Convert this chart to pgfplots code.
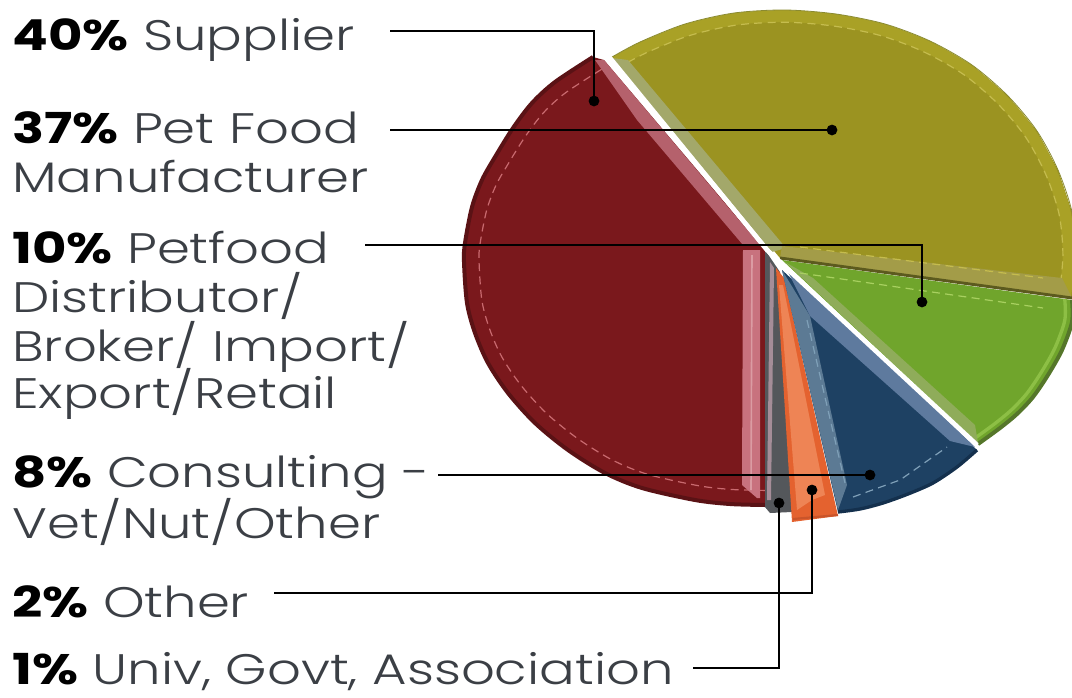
\documentclass[border=0pt]{standalone}
\usepackage{fontspec}
\usepackage{pgfplots}
\usepackage{pgfplotstable}
\pgfplotsset{compat=1.18}
\setmainfont{Poppins Light}[BoldFont={Poppins Bold},FakeStretch=1.24]

% wedge outlines: first row is the apex, the remaining rows run along the rim
\pgfplotstableread{
x y
765 250
604 60
593 57
555 82
532 103
513 128
495 157
482 180
472 207
465 243
464 262
467 303
475 333
488 363
508 393
535 423
568 450
605 473
642 488
695 500
730 504
765 505
}\redtbl
\pgfplotstableread{
x y
780 258
1072 298
1076 255
1072 212
1058 170
1037 131
1008 96
972 65
930 41
885 24
836 14
785 10
734 13
685 24
640 42
612 57
}\olivetbl
\pgfplotstableread{
x y
782 260
1072 300
1072 322
1062 350
1048 375
1033 397
1017 414
1000 428
978 444
}\greentbl
\pgfplotstableread{
x y
782 270
838 512
860 509
883 503
908 494
933 483
957 467
977 450
}\bluetbl

\definecolor{ink}{HTML}{3B3F45}
\definecolor{redmain}{HTML}{7A181C}
\definecolor{redrim}{HTML}{5A1215}
\definecolor{redseam}{HTML}{C96A6F}
\definecolor{redband}{HTML}{B5616C}
\definecolor{redside}{HTML}{C8727E}
\definecolor{redglow}{HTML}{DB9CA3}
\definecolor{olivemain}{HTML}{9B9321}
\definecolor{oliverim}{HTML}{A9A126}
\definecolor{oliveseam}{HTML}{C5BC4E}
\definecolor{oliveband}{HTML}{A3A86A}
\definecolor{olivelow}{HTML}{A39C48}
\definecolor{olivedark}{HTML}{8A8A30}
\definecolor{olivejoin}{HTML}{5C5A1E}
\definecolor{greenmain}{HTML}{70A52C}
\definecolor{greenrim}{HTML}{55762A}
\definecolor{greenlite}{HTML}{8DBF45}
\definecolor{greenband}{HTML}{8FAC5A}
\definecolor{greenseam}{HTML}{A8D060}
\definecolor{bluemain}{HTML}{1E4163}
\definecolor{bluerim}{HTML}{14304D}
\definecolor{blueside}{HTML}{5C7A94}
\definecolor{blueband}{HTML}{5E7A9E}
\definecolor{blueseam}{HTML}{7FA0B8}
\definecolor{orangemain}{HTML}{E4622F}
\definecolor{orangelite}{HTML}{EE8455}
\definecolor{orangerim}{HTML}{C9542A}
\definecolor{greymain}{HTML}{54575B}
\definecolor{greylite}{HTML}{A58D98}

\pgfplotsset{
  rimonly/.style={skip coords between index={0}{1}},
  redrimonly/.style={skip coords between index={0}{2}},
  seam/.style={dash pattern=on 6pt off 4pt, line width=0.9pt},
}

\newcommand{\lab}[3]{\node[anchor=base west, inner sep=0pt, text=ink] at (axis cs:#1,#2) {#3};}
\newcommand{\pct}[1]{\textbf{\textcolor{black}{#1\%}}}

\begin{document}
\begin{tikzpicture}
\begin{axis}[
  hide axis, scale only axis,
  width=804pt, height=522.75pt,
  xmin=0, xmax=1072, ymin=0, ymax=697, y dir=reverse,
  clip=true,
  every axis plot/.append style={no markers},
]
% supplier wedge
\addplot[fill=olivemain, draw=none] table {\olivetbl};
\addplot[draw=oliverim, line width=9pt, smooth, tension=0.5] table[x expr={785+(\thisrow{x}-785)*0.975}, y expr={255+(\thisrow{y}-255)*0.975}, rimonly] {\olivetbl};
\addplot[draw=oliveseam, seam, smooth, tension=0.5] table[x expr={785+(\thisrow{x}-785)*0.955}, y expr={255+(\thisrow{y}-255)*0.95}, rimonly] {\olivetbl};
\addplot[fill=oliveband, draw=none] coordinates {(612,58)(628,60)(786,248)(772,252)};
\addplot[fill=olivelow, draw=none] coordinates {(782,246)(1062,278)(1072,298)(780,258)};
\addplot[draw=oliveseam, seam] coordinates {(800,247)(1043,278)};
\addplot[draw=olivedark, line width=0.6pt, smooth, tension=0.5] table[rimonly] {\olivetbl};

% distributor wedge
\addplot[fill=greenmain, draw=none] table {\greentbl};
\addplot[draw=greenrim, line width=3pt, smooth, tension=0.5] table[rimonly] {\greentbl};
\addplot[draw=greenlite, line width=2.5pt, smooth, tension=0.5] table[x expr={782+(\thisrow{x}-782)*0.975}, y expr={262+(\thisrow{y}-262)*0.975}, rimonly] {\greentbl};
\addplot[fill=greenband, draw=none] coordinates {(785,262)(813,278)(975,425)(978,443)};
\addplot[draw=greenseam, seam] coordinates {(800,273)(1043,308)};
\addplot[draw=olivejoin, line width=2.2pt] coordinates {(780,258)(1072,298)};

% manufacturer wedge
\addplot[fill=redmain, draw=none] table {\redtbl};
\addplot[draw=redrim, line width=3pt, smooth, tension=0.5] table[redrimonly] {\redtbl};
\addplot[draw=redseam, seam, smooth, tension=0.5] table[x expr={765+(\thisrow{x}-765)*0.95}, y expr={262+(\thisrow{y}-262)*0.94}, redrimonly] {\redtbl};
\addplot[fill=redband, draw=none] coordinates {(595,60)(604,60)(760,245)(743,245)(637,120)};
\addplot[fill=redside, draw=none] coordinates {(743,250)(760,250)(760,498)(757,498)(742,485)};
\addplot[draw=redglow, line width=1.2pt] coordinates {(752,255)(751,490)};

% small wedges along the bottom
\addplot[fill=greymain, draw=none] coordinates {(765,250)(780,272)(792,512)(770,513)(765,507)};
\addplot[fill=greylite, draw=none] coordinates {(770,262)(774,268)(771,500)(767,500)};
\addplot[fill=orangemain, draw=none] coordinates {(776,268)(784,278)(838,516)(792,522)};
\addplot[fill=orangelite, draw=none] coordinates {(779,285)(783,285)(825,495)(812,500)(797,510)};
\addplot[draw=orangerim, line width=1.6pt] coordinates {(793,519)(838,515)};

% consulting wedge
\addplot[fill=bluemain, draw=none] table {\bluetbl};
\addplot[draw=bluerim, line width=2.5pt, smooth, tension=0.5] table[rimonly] {\bluetbl};
\addplot[fill=blueside, draw=none] coordinates {(782,270)(810,316)(847,485)(838,510)};
\addplot[fill=blueband, draw=none] coordinates {(784,264)(975,447)(950,441)(810,316)};
\addplot[draw=blueseam, seam] coordinates {(807,320)(845,483)};
\addplot[draw=blueseam, seam] coordinates {(853,497)(900,480)(947,447)};

% white gap between the exploded halves
\addplot[draw=white, line width=3.5pt] coordinates {(610,58)(767,250)(977,445)};

% leader lines, each ending in a dot
\addplot[black, line width=1.8pt] coordinates {(390,31)(594,31)(594,101)};
\addplot[black, line width=1.8pt] coordinates {(390,130)(832,130)};
\addplot[black, line width=1.8pt] coordinates {(365,245)(922,245)(922,302)};
\addplot[black, line width=1.8pt] coordinates {(438,475)(870,475)};
\addplot[black, line width=1.8pt] coordinates {(274,593)(812,593)(812,490)};
\addplot[black, line width=1.8pt] coordinates {(693,668)(779,668)(779,503)};
\addplot[only marks, mark=*, mark size=3.8pt, black] coordinates {(594,101)(832,130)(922,302)(870,475)(812,490)(779,503)};

\fontsize{32}{36}\selectfont
\lab{12}{50}{\pct{40} Supplier}
\lab{12}{143}{\pct{37} Pet Food}
\lab{12}{192}{Manufacturer}
\lab{12}{263}{\pct{10} Petfood}
\lab{12}{312}{Distributor/}
\lab{12}{361}{Broker/ Import/}
\lab{12}{408}{Export/Retail}
\lab{12}{487}{\pct{8} Consulting -}
\lab{12}{538}{Vet/Nut/Other}
\lab{12}{617}{\pct{2} Other}
\lab{12}{684}{\pct{1} Univ, Govt, Association}
\end{axis}
% the page spans the full plotting rectangle
\path (0,0) rectangle (804pt,522.75pt);
\end{tikzpicture}
\end{document}
